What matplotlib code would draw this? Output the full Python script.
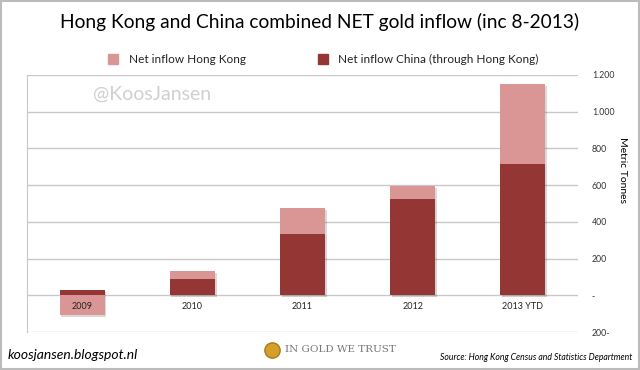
import numpy as np
import matplotlib.pyplot as plt
from matplotlib.lines import Line2D
from matplotlib import patheffects as pe

years = ['2009', '2010', '2011', '2012', '2013 YTD']
china = [29, 89, 336, 523, 714]
hong_kong = [-109, 43, 138, 73, 437]
yticks = [-200, 0, 200, 400, 600, 800, 1000, 1200]
ytick_labels = ['200-', '-', '200', '400', '600', '800', '1.000', '1.200']

dark = '#943634'
light = '#D99694'
plt.rcParams['font.family'] = ['Lato', 'DejaVu Sans']

fig = plt.figure(figsize=(6.4, 3.7), dpi=100)
ax = fig.add_axes([27 / 640, 38 / 370, 551 / 640, 257 / 370])

x = np.arange(len(years))
china = np.array(china)
hong_kong = np.array(hong_kong)
hk_bottom = np.where(hong_kong < 0, 0, china)

# light drop shadow behind the whole stack
shadow = [pe.SimplePatchShadow(offset=(1.2, -1.2), alpha=0.18)]
ax.bar(x, china, width=0.41, color=dark, zorder=2, path_effects=shadow)
ax.bar(x, hong_kong, bottom=hk_bottom, width=0.41, color=light, zorder=2,
       path_effects=shadow)
ax.bar(x, china, width=0.41, color=dark, zorder=3)
ax.bar(x, hong_kong, bottom=hk_bottom, width=0.41, color=light, zorder=3)

ax.set_xlim(-0.5, len(years) - 0.5)
ax.set_ylim(-200, 1200)
ax.set_yticks(yticks)
ax.set_yticklabels(ytick_labels, fontsize=6.3, color='#333333')
ax.yaxis.tick_right()
ax.tick_params(axis='y', length=0, pad=10)
ax.set_xticks([])
ax.grid(axis='y', color='#c8c8c8', lw=1, zorder=0)
for s in ['top', 'right', 'bottom']:
    ax.spines[s].set_visible(False)
ax.spines['left'].set_color('#c8c8c8')

for xi, lab in zip(x, years):
    ax.text(xi, -62, lab, ha='center', va='center', fontsize=6.5,
            color='#222222', zorder=5)

ax.text(0.12, 0.925, '@KoosJansen', transform=ax.transAxes, fontsize=14,
        color='#d0d0d0', va='center')

fig.text(0.5, 0.94, 'Hong Kong and China combined NET gold inflow (inc 8-2013)',
         ha='center', va='center', fontsize=13.8)

handles = [Line2D([], [], marker='s', ls='', color=light, markersize=6.5),
           Line2D([], [], marker='s', ls='', color=dark, markersize=6.5)]
fig.legend(handles, ['Net inflow Hong Kong', 'Net inflow China (through Hong Kong)'],
           loc='center', bbox_to_anchor=(0.5, 0.838), ncol=2, frameon=False,
           fontsize=8.5, handletextpad=0.3, columnspacing=5.5,
           labelcolor='#222222')

fig.text(622 / 640, 0.54, 'Metric Tonnes', rotation=270, ha='center',
         va='center', fontsize=7.5)

fig.text(8 / 640, 0.04, 'koosjansen.blogspot.nl', style='italic', fontsize=10,
         va='center')
fig.text(632 / 640, 0.035, 'Source: Hong Kong Census and Statistics Department',
         style='italic', fontsize=6.2, ha='right', va='center')
fig.add_artist(Line2D([272 / 640], [1 - 350 / 370], marker='o', markersize=11,
                      color='#d4a02a', markeredgecolor='#a87a1a',
                      transform=fig.transFigure))
fig.text(285 / 640, 1 - 350 / 370, 'IN GOLD WE TRUST', fontsize=7.5,
         family='DejaVu Serif', color='#777777', va='center')

fig.patches.append(plt.Rectangle((0.002, 0.003), 0.996, 0.994,
                                 transform=fig.transFigure, fill=False,
                                 ec='#bbbbbb', lw=1.5))

fig.savefig('out.png', dpi=100)
